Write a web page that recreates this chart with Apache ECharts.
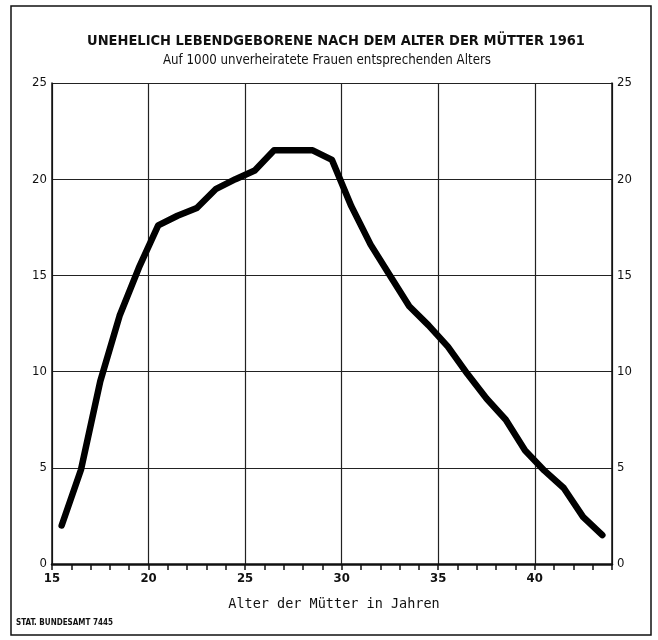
<!DOCTYPE html>
<html>
<head>
<meta charset="utf-8">
<script src="https://cdn.jsdelivr.net/npm/echarts@6/dist/echarts.min.js"></script>
<style>
html,body{margin:0;padding:0;background:#fff;}
#chart{width:658px;height:640px;}
</style>
</head>
<body>
<div id="chart"></div>
<script>
// Age of mother (midpoint of age year) and births per 1000 unmarried women
const ages = [15.5, 16.5, 17.5, 18.5, 19.5, 20.5, 21.5, 22.5, 23.5, 24.5, 25.5, 26.5, 27.5, 28.5, 29.5,
              30.5, 31.5, 32.5, 33.5, 34.5, 35.5, 36.5, 37.5, 38.5, 39.5, 40.5, 41.5, 42.5, 43.5];
const rates = [2.0, 4.9, 9.5, 12.9, 15.4, 17.6, 18.1, 18.5, 19.5, 20.0, 20.45, 21.5, 21.5, 21.5, 21.0,
               18.6, 16.6, 15.0, 13.4, 12.4, 11.3, 9.9, 8.6, 7.5, 5.9, 4.85, 3.95, 2.45, 1.5];
const xTicks = [15, 20, 25, 30, 35, 40];
const yTicks = [0, 5, 10, 15, 20, 25];

const titleText = 'UNEHELICH LEBENDGEBORENE NACH DEM ALTER DER MÜTTER 1961';
const subtitleText = 'Auf 1000 unverheiratete Frauen entsprechenden Alters';
const xName = 'Alter der Mütter in Jahren';
const footer = 'STAT. BUNDESAMT 7445';

const narrow = '"Liberation Sans Narrow", "DejaVu Sans Condensed", "Arial Narrow", sans-serif';
const chart = echarts.init(document.getElementById('chart'));

const yAxisBase = {
  type: 'value', min: 0, max: 25, interval: 5,
  axisLine: { show: true, lineStyle: { color: '#111', width: 1.5 } },
  axisTick: { show: false },
  axisLabel: { color: '#111', fontFamily: narrow, fontSize: 13, margin: 5,
    formatter: v => yTicks.includes(v) ? String(v) : '' }
};

chart.setOption({
  animation: false,
  backgroundColor: '#fff',
  grid: { left: 52, right: 46, top: 83, bottom: 76, containLabel: false },
  xAxis: [
    {
      type: 'value', min: 15, max: 44, interval: 5, position: 'bottom',
      axisLine: { show: true, onZero: false, lineStyle: { color: '#111', width: 2.5 } },
      axisTick: { show: false },
      axisLabel: { color: '#111', fontFamily: narrow, fontSize: 13, fontWeight: 'bold', margin: 8,
        formatter: v => xTicks.includes(v) ? String(v) : '' },
      splitLine: { show: true, lineStyle: { color: '#222', width: 1.2 } }
    },
    {
      type: 'value', min: 15, max: 44, interval: 1, position: 'bottom',
      axisLine: { show: false, onZero: false },
      axisTick: { show: true, length: 6, inside: false, lineStyle: { color: '#111', width: 1.5 } },
      axisLabel: { show: false },
      splitLine: { show: false }
    }
  ],
  yAxis: [
    Object.assign({}, yAxisBase, { position: 'left',
      splitLine: { show: true, lineStyle: { color: '#222', width: 1.2 } } }),
    Object.assign({}, yAxisBase, { position: 'right', splitLine: { show: false } })
  ],
  series: [{
    type: 'line',
    xAxisIndex: 0, yAxisIndex: 0,
    data: ages.map((a, i) => [a, rates[i]]),
    symbol: 'none',
    smooth: false,
    lineStyle: { color: '#000', width: 6.5, join: 'round', cap: 'round' },
    z: 5
  }],
  graphic: [
    { type: 'rect', shape: { x: 11, y: 6, width: 640, height: 629 },
      style: { fill: 'none', stroke: '#111', lineWidth: 1.5 }, silent: true },
    { type: 'text', x: 336, y: 41, style: { text: titleText, textAlign: 'center', textVerticalAlign: 'middle',
      font: 'bold 14.5px ' + narrow, fill: '#111' } },
    { type: 'text', x: 327, y: 61, style: { text: subtitleText, textAlign: 'center', textVerticalAlign: 'middle',
      font: '13.2px ' + narrow, fill: '#111' } },
    { type: 'text', x: 334, y: 604, style: { text: xName, textAlign: 'center', textVerticalAlign: 'middle',
      font: '13.5px "DejaVu Sans Mono", "Liberation Mono", monospace', fill: '#111' } },
    { type: 'text', x: 16, y: 623, style: { text: footer, textAlign: 'left', textVerticalAlign: 'middle',
      font: 'bold 8px ' + narrow, fill: '#111' } }
  ]
});
</script>
</body>
</html>
